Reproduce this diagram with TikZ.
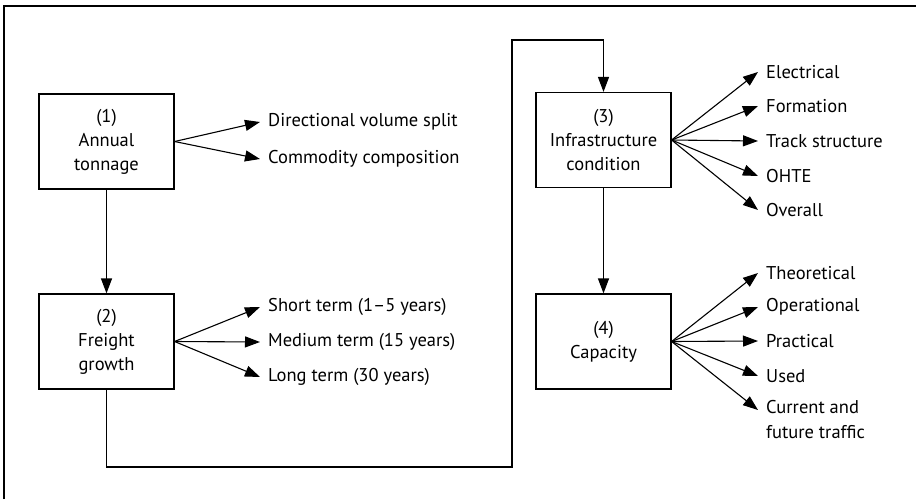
\documentclass[tikz,border=0pt]{standalone}
\usepackage{fontspec}
\setmainfont{PT Sans}
\usetikzlibrary{arrows.meta}
\begin{document}
\begin{tikzpicture}[x=1pt,y=-1pt,
  every node/.style={font=\fontsize{18.5}{24}\selectfont},
  stagebox/.style={draw,line width=1.2pt,minimum width=135pt,minimum height=95pt,align=center,inner sep=2pt},
  item/.style={anchor=west,inner xsep=8pt,inner ysep=0pt,align=left},
  flow/.style={line width=1.2pt,-{Triangle[length=15pt,width=11pt]}},
  fan/.style={line width=1.1pt,-{Triangle[length=15pt,width=11pt]}}]
  % canvas and frame
  \useasboundingbox (0,0) rectangle (916,499);
  \draw[line width=1.5pt] (4,499) -- (4,6) -- (916,6);

  % stages
  \node[stagebox] (s1) at (106.5,141.5) {(1)\\Annual\\tonnage};
  \node[stagebox] (s2) at (106.5,341.5) {(2)\\Freight\\growth};
  \node[stagebox] (s3) at (603.5,140) {(3)\\Infrastructure\\condition};
  \node[stagebox] (s4) at (603.5,341.5) {(4)\\Capacity};

  % links between stages
  \draw[flow] (s1) -- (s2);
  \coordinate (r1) at (106.5,467);
  \coordinate (r2) at (512,467);
  \coordinate (r3) at (512,40);
  \coordinate (r4) at (603.5,40);
  \draw[flow] (s2.south) -- (r1) -- (r2) -- (r3) -- (r4) -- (s3.north);
  \draw[flow] (s3) -- (s4);

  % (1) annual tonnage
  \node[item] (a1) at (260,122) {Directional volume split};
  \node[item] (a2) at (260,159) {Commodity composition};
  \foreach \n in {a1,a2} \draw[fan] (s1.east) -- (\n.west);

  % (2) freight growth
  \node[item] (g1) at (260,307) {Short term (1–5 years)};
  \node[item] (g2) at (260,342) {Medium term (15 years)};
  \node[item] (g3) at (260,377) {Long term (30 years)};
  \foreach \n in {g1,g2,g3} \draw[fan] (s2.east) -- (\n.west);

  % (3) infrastructure condition
  \node[item] (c1) at (758,72) {Electrical};
  \node[item] (c2) at (758,106) {Formation};
  \node[item] (c3) at (758,141) {Track structure};
  \node[item] (c4) at (758,176) {OHTE};
  \node[item] (c5) at (758,210) {Overall};
  \foreach \n in {c1,c2,c3,c4,c5} \draw[fan] (s3.east) -- (\n.west);

  % (4) capacity
  \node[item] (k1) at (758,273) {Theoretical};
  \node[item] (k2) at (758,307) {Operational};
  \node[item] (k3) at (758,341) {Practical};
  \node[item] (k4) at (758,376) {Used};
  \coordinate (k5) at (758,410);
  \node[item,anchor=north west,font=\fontsize{18.5}{25}\selectfont] (k5t) at (758,400) {Current and\\future traffic};
  \foreach \n in {k1,k2,k3,k4} \draw[fan] (s4.east) -- (\n.west);
  \draw[fan] (s4.east) -- (k5);
\end{tikzpicture}
\end{document}
